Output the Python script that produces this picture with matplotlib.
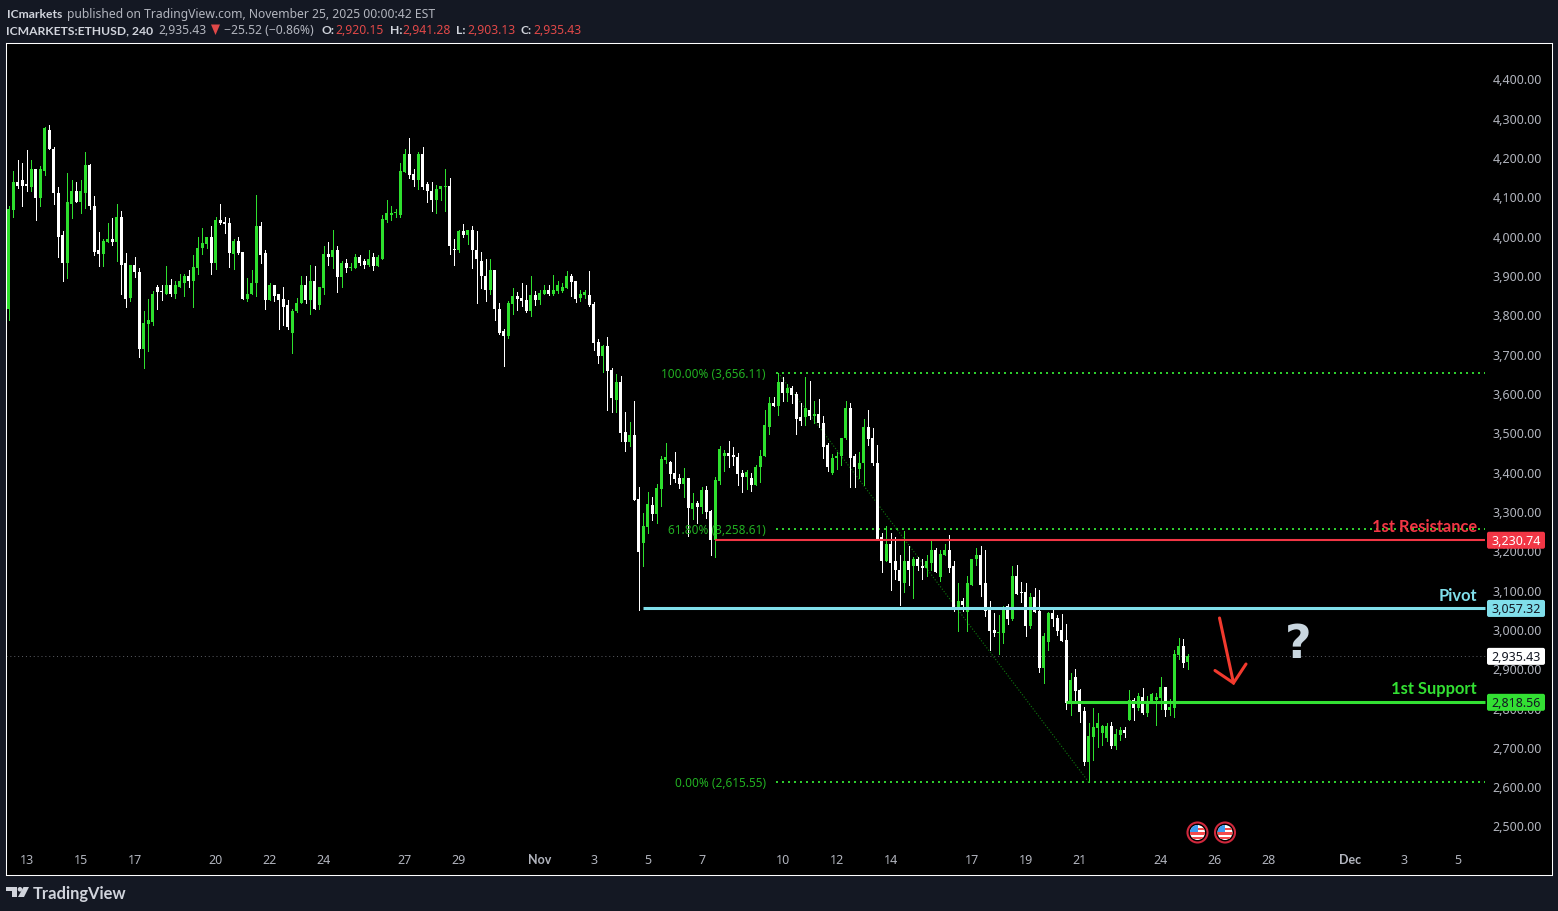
import matplotlib
matplotlib.use("Agg")
import matplotlib.pyplot as plt
from matplotlib.lines import Line2D
from matplotlib.patches import Circle, FancyBboxPatch, Polygon, Rectangle
from matplotlib.transforms import IdentityTransform, ScaledTranslation

plt.rcParams['font.family'] = ['Noto Sans', 'DejaVu Sans']
BOLD_FONT = ['Lato', 'DejaVu Sans']

# ETHUSD 4h candles
opens = [
    3818, 4068, 4139, 4146, 4134, 4126, 4172, 4098, 4169, 4271, 4225, 4113, 4004, 3935, 4085, 4118, 4090, 4113, 4182, 4080,
    3968, 3956, 3986, 3996, 3986, 4050, 3933, 3846, 3930, 3912, 3714, 3778, 3785, 3874, 3862, 3856, 3877, 3856, 3874, 3882,
    3900, 3887, 3920, 3971, 3981, 3999, 3933, 4042, 4037, 4035, 3956, 3991, 3961, 3841, 3854, 3882, 4027, 3958, 3839, 3879,
    3854, 3841, 3826, 3757, 3811, 3831, 3877, 3839, 3889, 3826, 3869, 3956, 3948, 3966, 3897, 3935, 3920, 3922, 3948, 3938,
    3928, 3948, 3925, 3945, 4042, 4057, 4060, 4057, 4164, 4212, 4159, 4146, 4210, 4134, 4118, 4095, 4121, 4126, 4129, 3968,
    3966, 4014, 4004, 4017, 3968, 3938, 3902, 3864, 3915, 3818, 3760, 3747, 3829, 3849, 3844, 3839, 3811, 3852, 3839, 3855,
    3865, 3855, 3862, 3862, 3870, 3900, 3888, 3844, 3852, 3852, 3829, 3732, 3697, 3722, 3661, 3585, 3631, 3503, 3478, 3496,
    3333, 3221, 3262, 3318, 3295, 3358, 3432, 3427, 3399, 3386, 3371, 3386, 3308, 3323, 3313, 3356, 3302, 3229, 3379, 3442,
    3450, 3445, 3440, 3399, 3389, 3386, 3368, 3414, 3442, 3516, 3579, 3571, 3630, 3602, 3617, 3600, 3541, 3541, 3561, 3544,
    3551, 3526, 3470, 3399, 3437, 3442, 3488, 3564, 3442, 3411, 3424, 3518, 3488, 3426, 3236, 3177, 3218, 3175, 3154, 3121,
    3175, 3164, 3182, 3164, 3159, 3172, 3205, 3134, 3192, 3203, 3162, 3053, 3075, 3045, 3116, 3180, 3190, 3119, 3053, 3000,
    2993, 2992, 3061, 3028, 3137, 3097, 3097, 3010, 3084, 3048, 2903, 2969, 3043, 3030, 3000, 2974, 2814, 2880, 2847, 2794,
    2664, 2728, 2751, 2738, 2725, 2756, 2705, 2733, 2745, 2771, 2822, 2801, 2829, 2789, 2819, 2822, 2827, 2855, 2796, 2801,
    2936, 2959, 2920.15,
]
closes = [
    4070, 4139, 4129, 4129, 4129, 4172, 4098, 4172, 4276, 4223, 4111, 4001, 3935, 4088, 4116, 4090, 4116, 4182, 4078, 3963,
    3956, 3989, 3996, 3986, 4050, 3930, 3841, 3930, 3910, 3714, 3780, 3788, 3856, 3859, 3859, 3877, 3856, 3877, 3887, 3900,
    3887, 3923, 3973, 3984, 3999, 3933, 4042, 4035, 4032, 3958, 3991, 3958, 3841, 3856, 3884, 4027, 3953, 3839, 3879, 3851,
    3839, 3821, 3770, 3813, 3833, 3877, 3839, 3889, 3818, 3872, 3956, 3948, 3966, 3897, 3933, 3920, 3922, 3948, 3935, 3928,
    3943, 3925, 3948, 4045, 4060, 4060, 4062, 4167, 4212, 4157, 4146, 4210, 4126, 4116, 4095, 4123, 4129, 4129, 3976, 3966,
    4014, 4004, 4017, 3966, 3943, 3902, 3864, 3915, 3816, 3757, 3747, 3831, 3849, 3842, 3837, 3811, 3852, 3839, 3857, 3865,
    3855, 3865, 3877, 3872, 3900, 3885, 3842, 3855, 3860, 3827, 3730, 3697, 3722, 3659, 3590, 3631, 3501, 3478, 3496, 3330,
    3198, 3264, 3320, 3295, 3361, 3435, 3440, 3397, 3384, 3371, 3386, 3310, 3323, 3313, 3356, 3300, 3229, 3381, 3460, 3450,
    3442, 3440, 3397, 3389, 3402, 3368, 3416, 3444, 3521, 3579, 3569, 3630, 3602, 3617, 3597, 3538, 3531, 3564, 3544, 3551,
    3526, 3467, 3414, 3439, 3444, 3490, 3564, 3439, 3416, 3426, 3518, 3485, 3424, 3233, 3175, 3218, 3172, 3152, 3124, 3175,
    3154, 3182, 3162, 3159, 3175, 3205, 3149, 3195, 3203, 3157, 3053, 3075, 3065, 3119, 3182, 3192, 3116, 3050, 2997, 2992,
    2995, 3058, 3028, 3137, 3092, 3094, 3010, 3084, 3046, 2903, 2985, 3043, 3028, 2997, 2972, 2814, 2873, 2845, 2791, 2664,
    2730, 2753, 2763, 2756, 2756, 2705, 2735, 2745, 2738, 2822, 2801, 2832, 2789, 2814, 2837, 2829, 2855, 2796, 2804, 2939,
    2959, 2916, 2935.43,
]
highs = [
    4078, 4167, 4197, 4187, 4220, 4197, 4174, 4180, 4279, 4286, 4230, 4126, 4014, 4162, 4146, 4141, 4144, 4215, 4185, 4103,
    4012, 3996, 4035, 4047, 4083, 4065, 3958, 3930, 3948, 3920, 3813, 3841, 3862, 3879, 3879, 3925, 3892, 3887, 3905, 3905,
    3917, 3953, 3999, 4024, 4001, 4027, 4052, 4083, 4052, 4047, 3994, 4001, 3963, 3895, 3915, 4108, 4037, 3966, 3882, 3879,
    3856, 3874, 3839, 3818, 3846, 3902, 3902, 3930, 3925, 3874, 3978, 3986, 4019, 3976, 3940, 3943, 3935, 3956, 3953, 3945,
    3966, 3958, 3953, 4055, 4095, 4078, 4070, 4187, 4223, 4251, 4172, 4215, 4230, 4141, 4139, 4131, 4129, 4172, 4149, 3996,
    4017, 4034, 4017, 4027, 4014, 3961, 3945, 3943, 3917, 3833, 3767, 3836, 3870, 3860, 3882, 3877, 3900, 3862, 3865, 3877,
    3877, 3903, 3888, 3882, 3913, 3905, 3888, 3865, 3865, 3913, 3834, 3740, 3725, 3745, 3666, 3651, 3646, 3554, 3529, 3582,
    3364, 3297, 3351, 3338, 3371, 3442, 3475, 3430, 3453, 3397, 3412, 3386, 3348, 3328, 3364, 3366, 3305, 3389, 3468, 3458,
    3481, 3465, 3450, 3407, 3407, 3401, 3421, 3457, 3559, 3594, 3592, 3654, 3643, 3627, 3622, 3607, 3579, 3643, 3633, 3584,
    3589, 3544, 3477, 3447, 3452, 3490, 3584, 3577, 3449, 3454, 3536, 3561, 3513, 3470, 3246, 3266, 3246, 3236, 3190, 3251,
    3215, 3185, 3187, 3180, 3192, 3226, 3208, 3205, 3220, 3243, 3175, 3121, 3081, 3139, 3182, 3208, 3215, 3203, 3073, 3043,
    3038, 3061, 3066, 3163, 3165, 3122, 3119, 3094, 3107, 3102, 2992, 3046, 3058, 3038, 3041, 3015, 2891, 2901, 2850, 2804,
    2763, 2802, 2789, 2758, 2763, 2766, 2748, 2753, 2753, 2847, 2827, 2840, 2852, 2832, 2840, 2840, 2880, 2855, 2824, 2949,
    2980, 2977, 2941.28,
]
lows = [
    3790, 4052, 4124, 4080, 4116, 4116, 4042, 4080, 4157, 4223, 4085, 3948, 3887, 3895, 4047, 4088, 4060, 4073, 4070, 3953,
    3925, 3925, 3986, 3979, 3938, 3854, 3823, 3836, 3897, 3694, 3668, 3711, 3775, 3816, 3839, 3856, 3851, 3846, 3874, 3851,
    3872, 3823, 3905, 3956, 3973, 3905, 3918, 4032, 4009, 3923, 3918, 3956, 3841, 3836, 3854, 3849, 3935, 3818, 3839, 3836,
    3767, 3775, 3767, 3706, 3808, 3831, 3833, 3805, 3816, 3818, 3854, 3928, 3922, 3861, 3872, 3910, 3917, 3922, 3928, 3920,
    3925, 3917, 3925, 3945, 4037, 4042, 4050, 4050, 4164, 4151, 4129, 4121, 4123, 4088, 4065, 4062, 4095, 4067, 3956, 3930,
    3961, 4001, 3981, 3922, 3833, 3869, 3836, 3854, 3790, 3752, 3673, 3743, 3804, 3814, 3824, 3809, 3799, 3827, 3829, 3855,
    3852, 3852, 3857, 3860, 3870, 3849, 3834, 3837, 3844, 3824, 3712, 3679, 3656, 3559, 3554, 3554, 3481, 3455, 3468, 3330,
    3051, 3163, 3246, 3280, 3272, 3315, 3425, 3371, 3376, 3361, 3338, 3239, 3282, 3272, 3297, 3285, 3191, 3185, 3371, 3404,
    3414, 3419, 3369, 3351, 3358, 3353, 3368, 3378, 3442, 3500, 3569, 3546, 3584, 3582, 3579, 3500, 3523, 3523, 3538, 3526,
    3518, 3439, 3404, 3396, 3411, 3421, 3485, 3365, 3365, 3386, 3370, 3472, 3421, 3231, 3147, 3175, 3103, 3129, 3063, 3098,
    3116, 3083, 3152, 3129, 3139, 3154, 3147, 3124, 3192, 3147, 3050, 2997, 3050, 2997, 3116, 3167, 3088, 3035, 2950, 2985,
    2939, 2967, 3015, 3025, 3092, 3071, 2985, 3005, 3046, 2893, 2865, 2949, 3010, 2987, 2972, 2799, 2784, 2819, 2766, 2656,
    2613.55, 2669, 2702, 2707, 2718, 2700, 2697, 2720, 2728, 2771, 2771, 2796, 2786, 2781, 2819, 2758, 2799, 2781, 2784, 2779,
    2926, 2906, 2903.13,
]
# values above were read about $2 low against the axis; the last bar comes from the header
READ_OFFSET = 2
opens = [p + READ_OFFSET for p in opens[:-1]] + opens[-1:]
closes = [p + READ_OFFSET for p in closes[:-1]] + closes[-1:]
highs = [p + READ_OFFSET for p in highs[:-1]] + highs[-1:]
lows = [p + READ_OFFSET for p in lows[:-1]] + lows[-1:]

price_ticks = [2500, 2600, 2700, 2800, 2900, 3000, 3100, 3200, 3300, 3400, 3500, 3600, 3700, 3800, 3900, 4000, 4100, 4200, 4300, 4400]
date_pos = [4, 16, 28, 46, 58, 70, 88, 100, 118, 130, 142, 154, 172, 184, 196, 214, 226, 238, 256, 268, 280, 298, 310, 322]
date_labels = ['13', '15', '17', '20', '22', '24', '27', '29', 'Nov', '3', '5', '7', '10', '12', '14', '17', '19', '21', '24', '26', '28', 'Dec', '3', '5']

fib_levels = [3656.11, 3258.61, 2615.55]
fib_labels = ['100.00% (3,656.11)', '61.80% (3,258.61)', '0.00% (2,615.55)']
fib_start, fib_low_bar, fib_high_bar = 170.5, 240, 171

level_prices = [3230.74, 3057.32, 2818.56]
level_names = ['1st Resistance', 'Pivot', '1st Support']
level_starts = [157, 141, 235]
level_colors = ['#f23645', '#80deea', '#33e033']
level_widths = [1.5, 2.2, 2.2]
tag_text_colors = ['white', '#131722', '#131722']
last_price = 2935.43
line_end = 328

W, H = 1558, 911
BG = '#141823'
GREEN = '#2ee02e'
TEXT = '#b2b5be'
BOLD_TEXT = '#d1d4dc'
RED = '#e04848'

fig = plt.figure(figsize=(W / 100, H / 100), dpi=100, facecolor=BG)
ax = fig.add_axes([6.2 / W, 1 - 875.2 / H, 1546 / W, 832 / H], facecolor='black')
ax.set_xlim((6.2 - 8.75) / 4.5, (1552.2 - 8.75) / 4.5)
ax.set_ylim(2378.9, 4494.8)

for s in ax.spines.values():
    s.set_color('white')
    s.set_linewidth(0.75)


def flip(y):
    return H - y


# candles
xs = list(range(len(opens)))
cols = [GREEN if c >= o else 'white' for o, c in zip(opens, closes)]
ax.vlines(xs, lows, highs, colors=cols, linewidth=0.72, antialiased=False, zorder=3)
ax.bar(xs, [max(abs(c - o), 2.5) for o, c in zip(opens, closes)], bottom=[min(o, c) for o, c in zip(opens, closes)],
       width=3 / 4.5, color=cols, linewidth=0, antialiased=False, zorder=3)

# fib tool
fib_dash = (0, (1, 2))
for lev, lab in zip(fib_levels, fib_labels):
    ax.plot([fib_start, line_end], [lev, lev], color='#2ecc2e', lw=1.44, ls=fib_dash, dash_capstyle='butt', zorder=2)
    ax.annotate(lab, (fib_start, lev), xytext=(-7.5, 0), textcoords='offset points', ha='right', va='center_baseline',
                color='#22b022', fontsize=8.5, zorder=4)
ax.plot([fib_high_bar, fib_low_bar], [fib_levels[0], fib_levels[2]], color='#0f7a0f', lw=0.8, ls=':', zorder=2)

# last price line
ax.plot([ax.get_xlim()[0], line_end], [last_price, last_price], color='#5d5f66', lw=0.7, ls=(0, (1, 3)), zorder=1)

# levels
for p, n, st, c, lw in zip(level_prices, level_names, level_starts, level_colors, level_widths):
    ax.plot([st, line_end], [p, p], color=c, lw=lw, solid_capstyle='butt', zorder=4)
    ax.annotate(n, (line_end, p), xytext=(-5.5, 3.5), textcoords='offset points', ha='right', va='bottom',
                color=c, fontsize=11.9, fontweight='bold', family=BOLD_FONT, zorder=6)

# axes ticks inside the frame
ax.yaxis.tick_right()
ax.set_yticks(price_ticks)
ax.set_yticklabels([f'{p:,.2f}' for p in price_ticks], ha='right')
ax.set_xticks(date_pos)
ax.set_xticklabels(date_labels)
ax.tick_params(axis='y', length=0, pad=-7.2, labelsize=9, labelcolor=TEXT)
ax.tick_params(axis='x', length=0, pad=-15.5, labelsize=9, labelcolor=TEXT)
nudge = ScaledTranslation(0, 0.8 / 72, fig.dpi_scale_trans)
for t in ax.get_yticklabels():
    t.set_transform(t.get_transform() + nudge)
for t in ax.get_xticklabels():
    if t.get_text() in ('Nov', 'Dec'):
        t.set_fontweight('bold')
        t.set_family(BOLD_FONT)

# price tags on the axis
fig.canvas.draw()
tag_prices = [level_prices[0], level_prices[1], last_price, level_prices[2]]
tag_cols = [level_colors[0], level_colors[1], 'white', level_colors[2]]
tag_txt = [tag_text_colors[0], tag_text_colors[1], '#131722', tag_text_colors[2]]
px = IdentityTransform()
for p, c, tc in zip(tag_prices, tag_cols, tag_txt):
    y = ax.transData.transform((0, p))[1]
    fig.add_artist(FancyBboxPatch((1487, y - 8.5), 58, 17, boxstyle='round,pad=0,rounding_size=2', fc=c, ec='none',
                                  transform=px, zorder=5))
    fig.text(1541 / W, y / H, f'{p:,.2f}', color=tc, fontsize=9, ha='right', va='center_baseline', zorder=6)

# hand drawn arrow and question mark
arrow = [[(1219.5, 618), (1233.5, 683)], [(1215, 670.5), (1233.5, 683), (1246, 664)]]
for seg in arrow:
    fig.add_artist(Line2D([a for a, b in seg], [flip(b) for a, b in seg], color='#f23a2e', lw=2.2, transform=px,
                          solid_capstyle='round', solid_joinstyle='miter', zorder=6))
fig.text(1298 / W, flip(645) / H, '?', color='#c9d6df', fontsize=33, fontweight='bold', family='DejaVu Sans',
         ha='center', va='center', zorder=6)

# economic event flags
for cx in (1197.5, 1225):
    cy = flip(832.5)
    fig.add_artist(Circle((cx, cy), 10, fc='black', ec='#d0283c', lw=1.5, transform=px, zorder=6))
    clip = Circle((cx, cy), 7.5, fc='white', ec='none', transform=px, zorder=6)
    fig.add_artist(clip)
    for dy, c, x0, w in [(3.5, '#f44b4b', cx, 8), (-1, '#f44b4b', cx - 8, 16), (-5.5, '#f44b4b', cx - 8, 16)]:
        r = Rectangle((x0, cy + dy - 1.2), w, 2.4, fc=c, ec='none', transform=px, zorder=7)
        fig.add_artist(r)
        r.set_clip_path(clip)
    r = Rectangle((cx - 8, cy + 0.5), 8, 8, fc='#3d9cf0', ec='none', transform=px, zorder=7)
    fig.add_artist(r)
    r.set_clip_path(clip)

# header
hdr = [
    (6.5, 13, 'ICmarkets', BOLD_TEXT, 'bold'),
    (67, 13, 'published on TradingView.com, November 25, 2025 00:00:42 EST', TEXT, 'normal'),
    (6.5, 29.5, 'ICMARKETS:ETHUSD, 240', BOLD_TEXT, 'bold'),
    (158.4, 29.5, '2,935.43', TEXT, 'normal'),
    (224, 29.5, '\u221225.52 (\u22120.86%)', TEXT, 'normal'),
    (321.5, 29.5, 'O:', BOLD_TEXT, 'bold'),
    (335, 29.5, '2,920.15', RED, 'normal'),
    (389.6, 29.5, 'H:', BOLD_TEXT, 'bold'),
    (402.6, 29.5, '2,941.28', RED, 'normal'),
    (456.5, 29.5, 'L:', BOLD_TEXT, 'bold'),
    (467.7, 29.5, '2,903.13', RED, 'normal'),
    (520.8, 29.5, 'C:', BOLD_TEXT, 'bold'),
    (533.5, 29.5, '2,935.43', RED, 'normal'),
]
for x, y, s, c, w in hdr:
    fam = BOLD_FONT if w == 'bold' else plt.rcParams['font.family']
    fig.text(x / W, flip(y) / H, s, color=c, fontweight=w, family=fam, fontsize=8.7 if w == 'bold' else 8.75,
             ha='left', va='center_baseline')
fig.add_artist(Polygon([(211, flip(24.5)), (220, flip(24.5)), (215.5, flip(35))], fc=RED, ec='none', transform=px))

# logo
logo_c = '#d1d4dc'
fig.add_artist(Polygon([(6, flip(887)), (17, flip(887)), (17, flip(897)), (12, flip(897)), (12, flip(891)), (6, flip(891))],
                       fc=logo_c, ec='none', transform=px))
fig.add_artist(Circle((20, flip(889.3)), 2.3, fc=logo_c, ec='none', transform=px))
fig.add_artist(Polygon([(23.5, flip(887)), (29, flip(887)), (24, flip(897)), (18, flip(897))], fc=logo_c, ec='none', transform=px))
fig.text(33 / W, flip(892) / H, 'TradingView', color=logo_c, fontsize=11.9, fontweight='bold', family=BOLD_FONT,
         ha='left', va='center_baseline')

fig.savefig('out.png', dpi=100, facecolor=BG)
